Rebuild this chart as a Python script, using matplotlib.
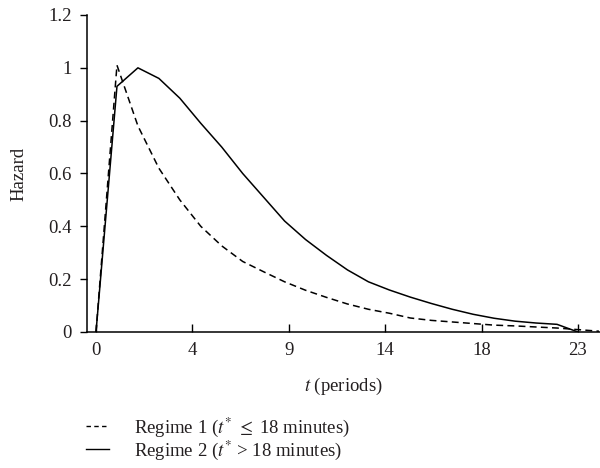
import matplotlib
matplotlib.use("Agg")
import matplotlib.pyplot as plt
from matplotlib.lines import Line2D

plt.rcParams['font.family'] = ['Liberation Serif', 'DejaVu Serif']
plt.rcParams['mathtext.fontset'] = 'stix'

# hazard per period
t = list(range(0, 25))
regime1 = [0.0, 1.01, 0.78, 0.62, 0.50, 0.40, 0.326, 0.267, 0.228, 0.19, 0.158,
           0.131, 0.106, 0.086, 0.071, 0.053, 0.044, 0.038, 0.032, 0.026, 0.023,
           0.019, 0.015, 0.009, 0.003]
t2 = list(range(0, 24))
regime2 = [0.0, 0.93, 1.0, 0.96, 0.885, 0.79, 0.70, 0.60, 0.51, 0.42, 0.35,
           0.29, 0.235, 0.19, 0.159, 0.132, 0.108, 0.086, 0.067, 0.052, 0.041,
           0.034, 0.029, 0.0]

tick_pos = [0, 4.6, 9.2, 13.8, 18.4, 23]
tick_lab = ['0', '4', '9', '14', '18', '23']
labels = [r'Regime 1 ($t^{*}$ $\leq$ 18 minutes)',
          r'Regime 2 ($t^{*}$ > 18 minutes)']
ink = '#231f20'
fs = 13.5

fig = plt.figure(figsize=(6.0, 4.68), dpi=100)
ax = fig.add_axes([87 / 600, 136 / 468, 513 / 600, 317 / 468])

ax.plot(t, regime1, color='black', lw=1.1, ls=(0, (4.5, 2.8)))
ax.plot(t2, regime2, color='black', lw=1.1)

ax.set_xlim(-0.43, 24.05)
ax.set_ylim(0, 1.2)
ax.set_yticks([0, 0.2, 0.4, 0.6, 0.8, 1.0, 1.2])
ax.set_yticklabels(['0', '0.2', '0.4', '0.6', '0.8', '1', '1.2'])
ax.set_xticks(tick_pos)
ax.set_xticklabels(tick_lab)

for s in ['top', 'right']:
    ax.spines[s].set_visible(False)
for s in ['left', 'bottom']:
    ax.spines[s].set_linewidth(1.1)
    ax.spines[s].set_color('black')

ax.tick_params(axis='y', direction='out', length=5, width=1, labelsize=fs,
               labelcolor=ink, pad=6)
ax.tick_params(axis='x', direction='in', length=6, width=1, labelsize=fs,
               labelcolor=ink, pad=7)

ax.set_ylabel('Hazard', fontsize=fs, color=ink, labelpad=15)
ax.set_xlabel(r'$t$ (periods)', fontsize=fs, color=ink, labelpad=12)

# legend keys: shorter dashes, as in the original
h1 = Line2D([], [], color='black', lw=1.0, ls=(0, (3.2, 2.4)))
h2 = Line2D([], [], color='black', lw=1.0)
fig.legend(handles=[h1, h2], labels=labels, loc='upper left',
           bbox_to_anchor=(0.143, 0.113), frameon=False, fontsize=fs,
           handlelength=1.25, handletextpad=1.3, labelspacing=0.0,
           labelcolor=ink, borderaxespad=0, borderpad=0)

fig.savefig('out.png', dpi=100)
